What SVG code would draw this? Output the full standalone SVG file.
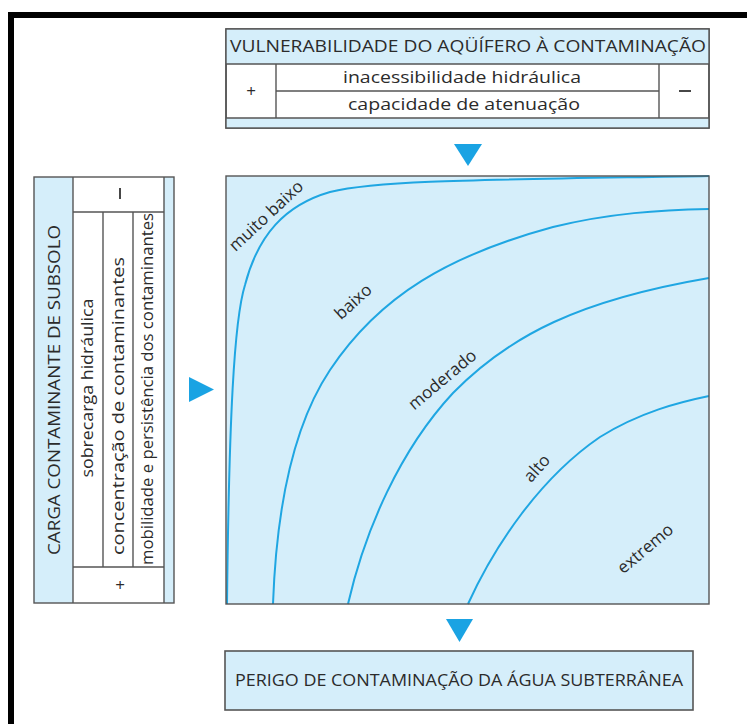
<svg xmlns="http://www.w3.org/2000/svg" width="747" height="724" viewBox="0 0 747 724">
<style>
.box{stroke:#555;stroke-width:1.6;}
.lb{fill:#d5eefa;}
.wh{fill:#ffffff;}
.ln{stroke:#555;stroke-width:1.4;fill:none;}
.t{font-family:"Open Sans","Liberation Sans",sans-serif;fill:#2b2b2b;}
.cap{font-size:16px;}
.row{font-size:17px;}
.lbl{font-size:17px;text-anchor:middle;}
.curve{fill:none;stroke:#1fa6e2;stroke-width:2;}
.arr{fill:#1aa3e3;}
</style>
<rect width="747" height="724" fill="#fff"/>
<!-- outer frame -->
<rect x="8" y="12" width="739" height="6" fill="#000"/>
<rect x="8" y="12" width="6" height="712" fill="#000"/>

<g id="vulnerabilidade">
<rect x="226" y="29" width="483" height="99" class="box wh"/>
<rect x="226" y="29" width="483" height="35" class="lb"/>
<rect x="226" y="118" width="483" height="10" class="lb"/>
<rect x="226" y="29" width="483" height="99" class="ln"/>
<line x1="226" y1="64" x2="709" y2="64" class="ln"/>
<line x1="226" y1="118" x2="709" y2="118" class="ln"/>
<line x1="276" y1="64" x2="276" y2="118" class="ln"/>
<line x1="659" y1="64" x2="659" y2="118" class="ln"/>
<line x1="276" y1="91" x2="659" y2="91" class="ln"/>
<text x="468" y="52" class="t cap" text-anchor="middle" textLength="476" lengthAdjust="spacingAndGlyphs">VULNERABILIDADE DO AQÜÍFERO À CONTAMINAÇÃO</text>
<text x="462" y="83" class="t row" text-anchor="middle" textLength="238" lengthAdjust="spacingAndGlyphs">inacessibilidade hidráulica</text>
<text x="464" y="110" class="t row" text-anchor="middle" textLength="232" lengthAdjust="spacingAndGlyphs">capacidade de atenuação</text>
<text x="251" y="97" class="t row" text-anchor="middle">+</text>
<line x1="679" y1="91" x2="691" y2="91" stroke="#333" stroke-width="1.8"/>
</g>

<g id="carga">
<rect x="34" y="177" width="140" height="426" class="wh"/>
<rect x="34" y="177" width="39" height="426" class="lb"/>
<rect x="164" y="177" width="10" height="426" class="lb"/>
<rect x="34" y="177" width="140" height="426" class="ln"/>
<line x1="73" y1="177" x2="73" y2="603" class="ln"/>
<line x1="164" y1="177" x2="164" y2="603" class="ln"/>
<line x1="73" y1="212" x2="164" y2="212" class="ln"/>
<line x1="73" y1="567" x2="164" y2="567" class="ln"/>
<line x1="103" y1="212" x2="103" y2="567" class="ln"/>
<line x1="133" y1="212" x2="133" y2="567" class="ln"/>
<text transform="translate(60,390) rotate(-90)" class="t cap" text-anchor="middle" textLength="330" lengthAdjust="spacingAndGlyphs">CARGA CONTAMINANTE DE SUBSOLO</text>
<text transform="translate(93,388) rotate(-90)" class="t row" text-anchor="middle" textLength="179" lengthAdjust="spacingAndGlyphs">sobrecarga hidráulica</text>
<text transform="translate(124,406) rotate(-90)" class="t row" text-anchor="middle" textLength="298" lengthAdjust="spacingAndGlyphs">concentração de contaminantes</text>
<text transform="translate(153,389) rotate(-90)" class="t" font-size="16" text-anchor="middle" textLength="352" lengthAdjust="spacingAndGlyphs">mobilidade e persistência dos contaminantes</text>
<line x1="120" y1="188" x2="120" y2="199" stroke="#333" stroke-width="1.8"/>
<text x="120" y="591" class="t row" text-anchor="middle">+</text>
</g>

<g id="grafico">
<rect x="226" y="176" width="483" height="428" class="lb"/>
<path class="curve" d="M227,604 C229,420 234,320 245,285 C258,235 285,205 330,192 C380,180 480,180 709,176"/>
<path class="curve" d="M273,604 C276,520 290,430 330,370 C380,295 450,255 553,227 C610,213 660,210 709,209"/>
<path class="curve" d="M348,604 C365,530 400,450 453,393 C510,335 580,300 709,278"/>
<path class="curve" d="M468,604 C495,545 540,478 600,437 C640,412 680,402 709,396"/>
<rect x="226" y="176" width="483" height="428" class="ln"/>
<text transform="translate(270,220) rotate(-43)" class="t lbl">muito baixo</text>
<text transform="translate(357,306) rotate(-42)" class="t lbl">baixo</text>
<text transform="translate(446,384) rotate(-40)" class="t lbl">moderado</text>
<text transform="translate(541,472) rotate(-48)" class="t lbl">alto</text>
<text transform="translate(649,553) rotate(-40)" class="t lbl">extremo</text>
</g>

<g id="perigo">
<rect x="225" y="651" width="468" height="59" class="box lb"/>
<text x="459" y="686" class="t cap" text-anchor="middle" textLength="448" lengthAdjust="spacingAndGlyphs">PERIGO DE CONTAMINAÇÃO DA ÁGUA SUBTERRÂNEA</text>
</g>

<g id="connectors">
<polygon class="arr" points="454,144 482,144 468,166"/>
<polygon class="arr" points="189,377 189,402 214,389.5"/>
<polygon class="arr" points="446,619 473,619 459.5,642"/>
</g>
</svg>
